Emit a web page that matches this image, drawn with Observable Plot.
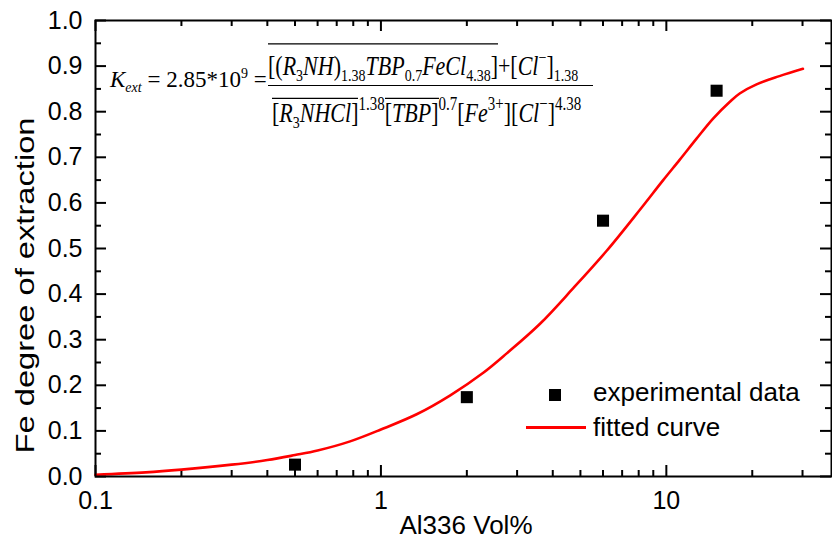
<!DOCTYPE html>
<html>
<head>
<meta charset="utf-8">
<script src="https://cdn.jsdelivr.net/npm/d3@7"></script>
<script src="https://cdn.jsdelivr.net/npm/@observablehq/plot@0.6"></script>
<style>
  html, body { margin: 0; padding: 0; background: #fff; }
  #wrap { position: relative; width: 832px; height: 549px; overflow: hidden; }
  .eq { position: absolute; font-family: "Liberation Serif", "Times New Roman", serif; font-size: 22px; line-height: 22px; white-space: nowrap; color: #000; }
  .eq sub, .eq sup { font-size: 14px; line-height: 0; position: relative; vertical-align: baseline; }
  .eq sub { top: 5px; }
  .eq sup { top: -9px; }
  .frac { transform: scale(1, 1.25); transform-origin: 0 0; }
  .den sup { font-size: 15px; }
  .ov { position: relative; }
  .ov::before { content: ""; position: absolute; left: 0; right: 0; border-top: 1.1px solid #000; }
  .num .ov::before { top: -5px; }
  .den .ov::before { top: 1px; }
  .leg { position: absolute; font-family: "Liberation Sans", Arial, sans-serif; font-size: 26px; line-height: 26px; white-space: nowrap; color: #000; }
</style>
</head>
<body>
<div id="wrap">
  <div id="chart"></div>
  <div class="eq" style="left:110px; top:68px; font-size:23px; line-height:23px;"><i>K</i><sub><i>ext</i></sub> = 2.85*10<sup>9</sup> =</div>
  <div class="eq frac num" style="left:268px; top:52px;"><span class="ov">[(<i>R</i><sub>3</sub><i>NH</i>)<sub>1.38</sub><i>TBP</i><sub>0.7</sub><i>FeCl</i><sub>4.38</sub>]</span>+[<i>Cl</i><sup>−</sup>]<sub>1.38</sub></div>
  <div style="position:absolute; left:268px; top:85px; width:325px; border-top:1.3px solid #000;"></div>
  <div class="eq frac den" style="left:272px; top:99px;"><span class="ov">[<i>R</i><sub>3</sub><i>NHCl</i>]</span><sup>1.38</sup><span class="ov">[<i>TBP</i>]</span><sup>0.7</sup>[<i>Fe</i><sup>3+</sup>][<i>Cl</i><sup>−</sup>]<sup>4.38</sup></div>
  <div style="position:absolute; left:549px; top:389px; width:12px; height:12px; background:#000;"></div>
  <div class="leg" style="left:593px; top:379px;">experimental data</div>
  <div style="position:absolute; left:526px; top:426px; width:60px; height:3px; background:#ff0000;"></div>
  <div class="leg" style="left:593px; top:414px;">fitted curve</div>
</div>
<script>
// fitted curve
const curveX = [0.1, 0.15, 0.2, 0.3, 0.4, 0.5, 0.6, 0.78, 1.0, 1.34, 1.75, 2.29, 2.76, 3.61, 4.72, 6.18, 8.08, 9.75, 11.15, 12.76, 14.58, 16.7, 18.07, 20.7, 24.9, 30.1];
const curveY = [0.004, 0.009, 0.015, 0.026, 0.036, 0.047, 0.057, 0.077, 0.103, 0.137, 0.178, 0.228, 0.27, 0.335, 0.413, 0.495, 0.585, 0.65, 0.695, 0.741, 0.785, 0.822, 0.84, 0.86, 0.878, 0.894];
// experimental data
const expX = [0.5, 2, 6, 15];
const expY = [0.026, 0.174, 0.561, 0.846];
// ticks
const xTicks = [0.1, 1, 10];
const xMinor = [0.2, 0.3, 0.4, 0.5, 0.6, 0.7, 0.8, 0.9, 2, 3, 4, 5, 6, 7, 8, 9, 20, 30];
const yTicks = [0, 0.1, 0.2, 0.3, 0.4, 0.5, 0.6, 0.7, 0.8, 0.9, 1.0];
const yMinor = [0.05, 0.15, 0.25, 0.35, 0.45, 0.55, 0.65, 0.75, 0.85, 0.95];
const xTitle = "Al336 Vol%";
const yTitle = "Fe degree of extraction";

const curve = curveX.map((x, i) => ({x, y: curveY[i]}));
const exp = expX.map((x, i) => ({x, y: expY[i]}));

const W = 832, H = 549, mt = 20, mb = 73, ml = 95, mr = 1;
const ph = H - mt - mb, pw = W - ml - mr;
const major = 11, minor = 6;

const chart = Plot.plot({
  width: W, height: H,
  marginTop: mt, marginBottom: mb, marginLeft: ml, marginRight: mr,
  x: {type: "log", domain: [0.1, 37.9]},
  y: {domain: [0, 1]},
  style: {fontFamily: "'Liberation Sans', Arial, sans-serif", fontSize: "25px", background: "white", color: "black", overflow: "visible"},
  marks: [
    Plot.tickX(xTicks, {x: d => d, insetTop: ph - major, strokeWidth: 2}),
    Plot.tickX(xMinor, {x: d => d, insetTop: ph - minor, strokeWidth: 2}),
    Plot.tickX(xTicks, {x: d => d, insetBottom: ph - major, strokeWidth: 2}),
    Plot.tickX(xMinor, {x: d => d, insetBottom: ph - minor, strokeWidth: 2}),
    Plot.tickY(yTicks, {y: d => d, insetRight: pw - major, strokeWidth: 2}),
    Plot.tickY(yMinor, {y: d => d, insetRight: pw - minor, strokeWidth: 2}),
    Plot.tickY(yTicks, {y: d => d, insetLeft: pw - major, strokeWidth: 2}),
    Plot.tickY(yMinor, {y: d => d, insetLeft: pw - minor, strokeWidth: 2}),
    Plot.axisX(xTicks, {tickSize: 0, tickPadding: 15, tickFormat: d => String(d), label: null}),
    Plot.axisY(yTicks, {tickSize: 0, tickPadding: 13, tickFormat: d => d.toFixed(1), label: null}),
    Plot.text([xTitle], {frameAnchor: "bottom", text: d => d, textAnchor: "start", dy: 57, dx: -64, fontSize: 26}),
    Plot.text([yTitle], {frameAnchor: "left", text: d => d, textAnchor: "start", rotate: -90, dx: -70, dy: 205, fontSize: 25}),
    Plot.line(curve, {x: "x", y: "y", stroke: "#ff0000", strokeWidth: 2.6, curve: "catmull-rom"}),
    Plot.dot(exp, {x: "x", y: "y", symbol: "square", fill: "black", stroke: "none", r: 6.8}),
    Plot.frame({stroke: "black", strokeWidth: 2})
  ]
});
document.getElementById("chart").appendChild(chart);
d3.select(chart).selectAll("text").filter(function() { return this.textContent === yTitle; })
  .attr("textLength", 336).attr("lengthAdjust", "spacingAndGlyphs");
d3.select(chart).selectAll("text").filter(function() { return this.textContent === xTitle; })
  .attr("textLength", 133).attr("lengthAdjust", "spacingAndGlyphs");
</script>
</body>
</html>
